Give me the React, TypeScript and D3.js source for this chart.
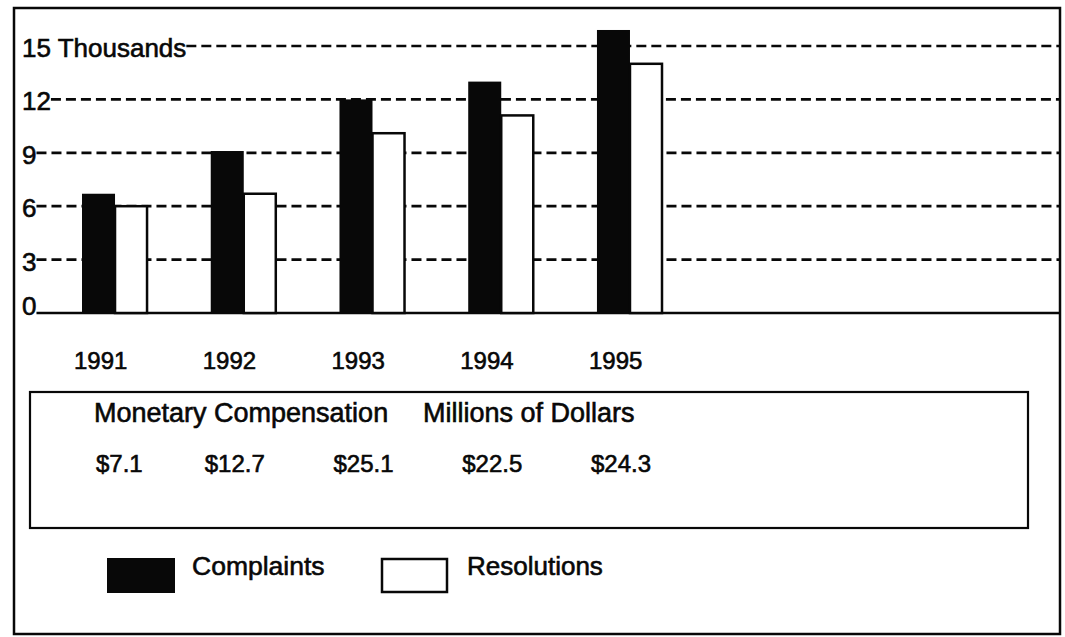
import React, { useEffect, useRef } from 'react';
import * as d3 from 'd3';

const WIDTH = 1065;
const HEIGHT = 637;

// values (thousands)
const years = ['1991', '1992', '1993', '1994', '1995'];
const complaints = [6.7, 9.1, 12.0, 13.0, 15.9];
const resolutions = [6.0, 6.7, 10.1, 11.1, 14.0];
const compensation = ['$7.1', '$12.7', '$25.1', '$22.5', '$24.3'];
const yTicks = [0, 3, 6, 9, 12, 15];
const yUnit = 'Thousands';
const boxTitle = 'Monetary Compensation';
const boxUnit = 'Millions of Dollars';
const seriesNames = ['Complaints', 'Resolutions'];

const FONT = '"Liberation Sans", Arial, Helvetica, sans-serif';
const INK = '#080808';

// scanned type looks heavy, a thin outline gets closer to it
function ink(sel: any, size: number) {
  return sel
    .attr('font-family', FONT)
    .attr('font-size', size)
    .attr('fill', INK)
    .attr('stroke', INK)
    .attr('stroke-width', 0.6);
}

export default function App() {
  const ref = useRef<SVGSVGElement>(null);

  useEffect(() => {
    const svg = d3.select(ref.current);
    svg.selectAll('*').remove();

    const frame = { left: 14, top: 8, right: 1060, bottom: 634 };
    const plot = { left: 82, right: 663, base: 313, top: 46 };

    const x0 = d3.scaleBand<string>().domain(years).range([plot.left, plot.right]).paddingInner(0.487);
    const x1 = d3.scaleBand<string>().domain(seriesNames).range([0, x0.bandwidth()]);
    const y = d3.scaleLinear().domain([0, 15]).range([plot.base, plot.top]);

    svg.append('rect')
      .attr('width', WIDTH).attr('height', HEIGHT).attr('fill', '#fff');

    // outer frame
    svg.append('rect')
      .attr('x', frame.left).attr('y', frame.top)
      .attr('width', frame.right - frame.left).attr('height', frame.bottom - frame.top)
      .attr('fill', 'none').attr('stroke', INK).attr('stroke-width', 2.5);

    // tick labels, gridlines start where the label ends
    const grid = svg.append('g');
    yTicks.forEach(t => {
      const label = ink(grid.append('text'), 26)
        .attr('x', 22)
        .attr('y', y(t) + (t === 0 ? 2 : 11))
        .text(t === 15 ? `${t} ${yUnit}` : `${t}`);
      const end = 22 + (label.node() as SVGTextElement).getComputedTextLength();
      grid.append('line')
        .attr('x1', end).attr('x2', frame.right)
        .attr('y1', y(t)).attr('y2', y(t))
        .attr('stroke', INK)
        .attr('stroke-width', 2.7)
        .attr('stroke-dasharray', t === 0 ? null : '10 5');
    });

    // bars
    const bars = svg.append('g');
    years.forEach((yr, i) => {
      bars.append('rect')
        .attr('x', x0(yr)! + x1('Complaints')!)
        .attr('y', y(complaints[i]))
        .attr('width', x1.bandwidth())
        .attr('height', y(0) - y(complaints[i]))
        .attr('fill', INK);
      bars.append('rect')
        .attr('x', x0(yr)! + x1('Resolutions')!)
        .attr('y', y(resolutions[i]))
        .attr('width', x1.bandwidth() - 1)
        .attr('height', y(0) - y(resolutions[i]))
        .attr('fill', '#fff').attr('stroke', INK).attr('stroke-width', 2.5);
    });

    // year row
    ink(svg.append('g').selectAll('text').data(years).join('text'), 24)
      .attr('x', (d: string) => x0(d)! - 8)
      .attr('y', 369)
      .text((d: string) => d);

    // compensation box
    svg.append('rect')
      .attr('x', 30).attr('y', 392).attr('width', 998).attr('height', 136)
      .attr('fill', 'none').attr('stroke', INK).attr('stroke-width', 2.2);
    ink(svg.append('text'), 27)
      .attr('x', 94).attr('y', 422)
      .text(boxTitle);
    ink(svg.append('text'), 27)
      .attr('x', 423).attr('y', 422)
      .text(boxUnit);
    ink(svg.append('g').selectAll('text').data(compensation).join('text'), 24)
      .attr('x', (d: string, i: number) => x0(years[i])! + (i === 0 ? 14 : -6))
      .attr('y', 472)
      .text((d: string) => d);

    // legend
    const legend = svg.append('g');
    legend.append('rect')
      .attr('x', 107).attr('y', 558).attr('width', 68).attr('height', 35)
      .attr('fill', INK);
    ink(legend.append('text'), 26.5)
      .attr('x', 192).attr('y', 575)
      .text(seriesNames[0]);
    legend.append('rect')
      .attr('x', 382).attr('y', 559).attr('width', 65).attr('height', 33)
      .attr('fill', '#fff').attr('stroke', INK).attr('stroke-width', 2.5);
    ink(legend.append('text'), 26)
      .attr('x', 467).attr('y', 575)
      .text(seriesNames[1]);
  }, []);

  return (
    <svg
      ref={ref}
      width={WIDTH}
      height={HEIGHT}
      style={{ position: 'absolute', left: 0, top: 0, display: 'block' }}
      xmlns="http://www.w3.org/2000/svg"
    />
  );
}
